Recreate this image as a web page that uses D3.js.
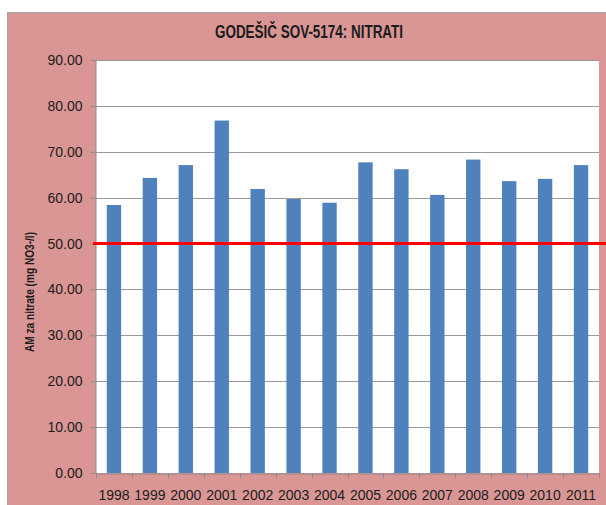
<!DOCTYPE html>
<html lang="en">
<head>
    <meta charset="UTF-8">
    <title>Godešič SOV-5174: nitrati</title>
    <script src="https://cdn.jsdelivr.net/npm/d3@7/dist/d3.min.js"></script>
    <style>
        body { margin: 0; background: white; }
        text { font-family: "Liberation Sans", Arial, sans-serif; fill: #1c1c1c; }
        .grid line { stroke: #9a9a9a; stroke-width: 1; }
        .bar { fill: #4f81bd; }
    </style>
</head>
<body>
<script>
    const width = 606;
    const height = 505;

    const years = ["1998", "1999", "2000", "2001", "2002", "2003", "2004",
                   "2005", "2006", "2007", "2008", "2009", "2010", "2011"];
    const nitrate = [58.4, 64.3, 67.1, 76.8, 61.9, 59.7, 58.9,
                     67.7, 66.2, 60.6, 68.3, 63.6, 64.1, 67.1];
    const yTicks = [0, 10, 20, 30, 40, 50, 60, 70, 80, 90];
    const limit = 50;

    const title = "GODEŠIČ SOV-5174: NITRATI";
    const yTitle = "AM za nitrate (mg NO3-/l)";

    const plot = {left: 96, right: 599, top: 60, bottom: 473};

    const svg = d3.select("body").append("svg")
            .attr("width", width).attr("height", height);

    // pink chart area
    svg.append("rect")
        .attr("x", 7.5).attr("y", 12.5)
        .attr("width", 640).attr("height", 540)
        .attr("fill", "#d99694")
        .attr("stroke", "#a5a5a5");

    // plot area
    svg.append("rect")
        .attr("x", plot.left).attr("y", plot.top)
        .attr("width", plot.right - plot.left).attr("height", plot.bottom - plot.top)
        .attr("fill", "white");

    const x = d3.scaleBand()
        .domain(years)
        .range([plot.left, plot.right])
        .paddingInner(0.6)
        .paddingOuter(0.3);

    const y = d3.scaleLinear()
        .domain([0, 90])
        .range([plot.bottom, plot.top]);

    // gridlines
    svg.append("g").attr("class", "grid")
        .selectAll("line")
        .data(yTicks.slice(1))
        .join("line")
        .attr("x1", plot.left).attr("x2", plot.right)
        .attr("y1", d => Math.round(y(d)) + 0.5)
        .attr("y2", d => Math.round(y(d)) + 0.5);

    // bars
    svg.append("g")
        .selectAll("rect")
        .data(nitrate)
        .join("rect")
        .attr("class", "bar")
        .attr("x", (d, i) => x(years[i]))
        .attr("width", x.bandwidth())
        .attr("y", d => y(d))
        .attr("height", d => y(0) - y(d));

    // y axis
    const yAxis = svg.append("g")
        .attr("transform", `translate(${plot.left - 0.5},0)`)
        .call(d3.axisLeft(y).tickValues(yTicks).tickFormat(d3.format(".2f"))
            .tickSize(5).tickSizeOuter(0).tickPadding(8));
    yAxis.selectAll("text").attr("font-size", 14).attr("font-family", null);
    yAxis.selectAll("line, path").attr("stroke", "#8c8c8c");

    // x axis
    const xAxis = svg.append("g")
        .attr("transform", `translate(0,${plot.bottom + 0.5})`)
        .call(d3.axisBottom(x).tickSize(0).tickPadding(17));
    xAxis.selectAll("text").attr("font-size", 14).attr("font-family", null);
    xAxis.select("path").attr("stroke", "#8c8c8c");

    // tick marks between categories
    const bounds = years.map(d => x(d) + x.bandwidth() / 2 - x.step() / 2)
        .concat([x(years[years.length - 1]) + x.bandwidth() / 2 + x.step() / 2]);
    svg.append("g")
        .selectAll("line")
        .data(bounds)
        .join("line")
        .attr("x1", d => Math.round(d) + 0.5).attr("x2", d => Math.round(d) + 0.5)
        .attr("y1", plot.bottom).attr("y2", plot.bottom + 5)
        .attr("stroke", "#8c8c8c");

    // limit line at 50
    svg.append("line")
        .attr("x1", 93).attr("x2", width)
        .attr("y1", y(limit)).attr("y2", y(limit))
        .attr("stroke", "#ff0000")
        .attr("stroke-width", 3);

    // title
    svg.append("text")
        .attr("x", 309).attr("y", 38)
        .attr("text-anchor", "middle")
        .attr("font-size", 18).attr("font-weight", "bold")
        .attr("textLength", 188).attr("lengthAdjust", "spacingAndGlyphs")
        .text(title);

    // y axis title
    svg.append("text")
        .attr("transform", "translate(34,292) rotate(-90)")
        .attr("text-anchor", "middle")
        .attr("font-size", 13).attr("font-weight", "bold")
        .attr("textLength", 120).attr("lengthAdjust", "spacingAndGlyphs")
        .text(yTitle);
</script>
</body>
</html>
